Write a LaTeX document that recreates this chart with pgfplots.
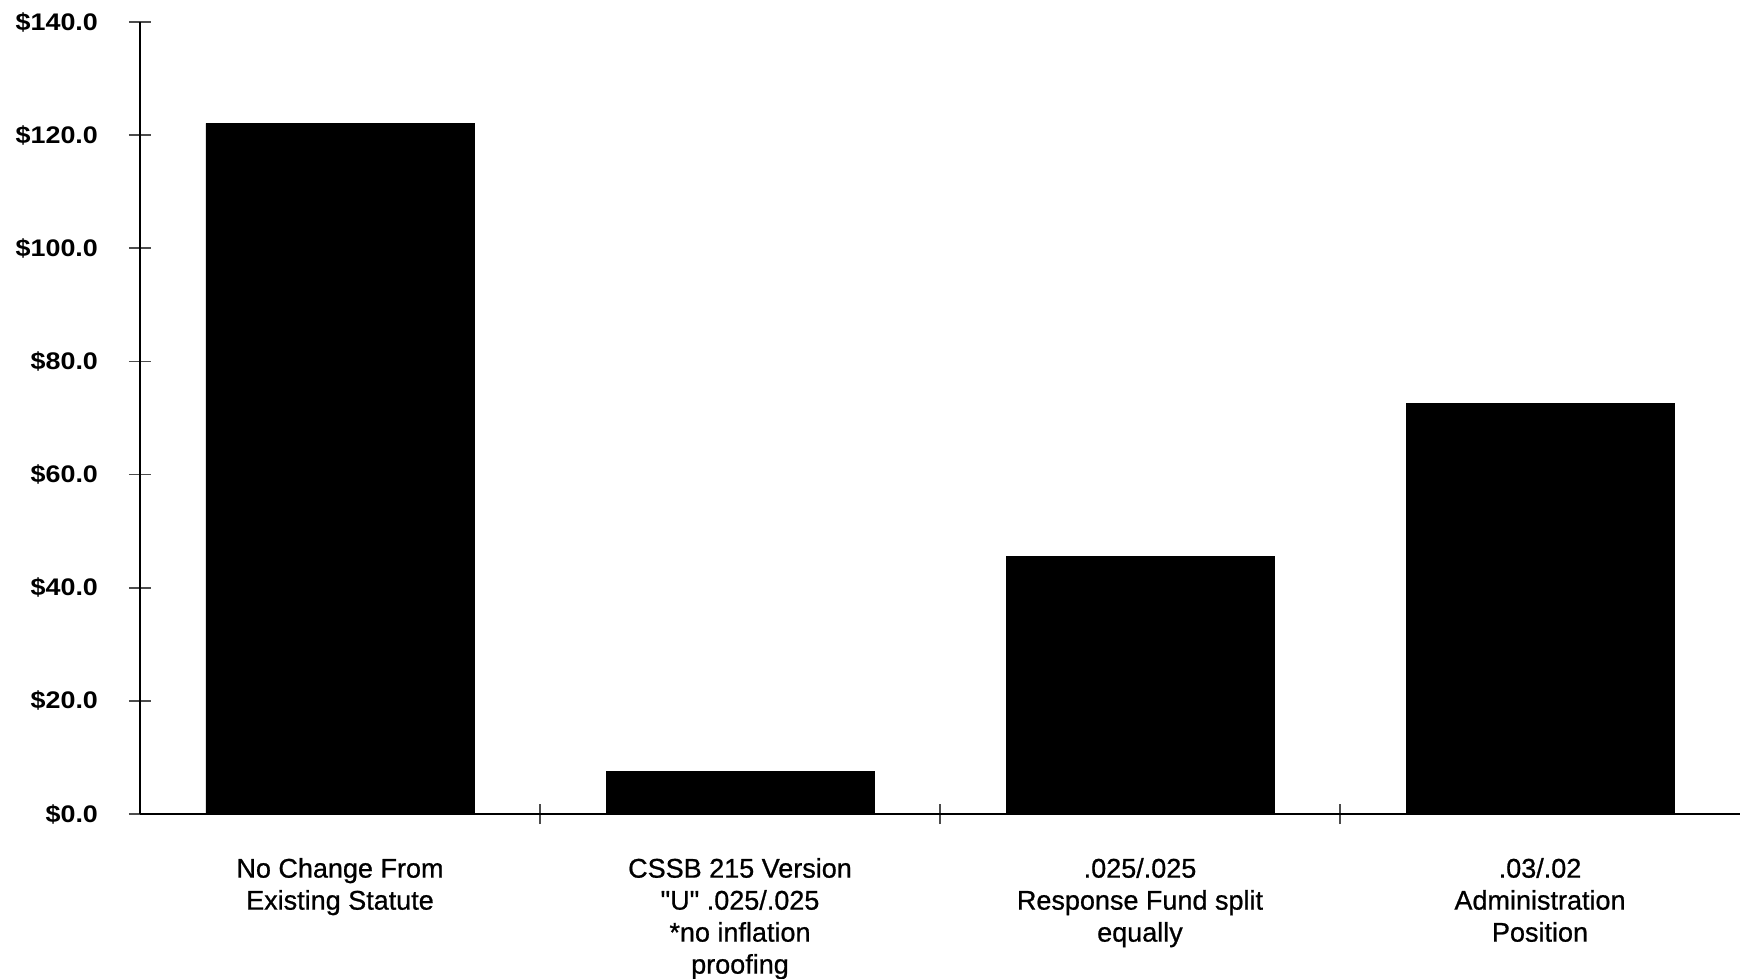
\documentclass[border=0pt]{standalone}
\usepackage{pgfplots}
\pgfplotsset{compat=1.18}
\usepackage{fontspec}
\setmainfont{Liberation Sans}
\newfontfamily\catfont[FakeBold=0.8]{Liberation Sans}
\newfontfamily\valfont[FakeStretch=1.12]{Liberation Sans}
\begin{document}
\begin{tikzpicture}
\useasboundingbox (-70pt,-82.5pt) rectangle (800pt,407pt);
\begin{axis}[
  at={(0pt,0pt)}, anchor=south west,
  scale only axis, width=800pt, height=396pt,
  xmin=-0.5, xmax=3.5, ymin=0, ymax=140,
  axis x line*=bottom, axis y line*=left,
  axis line style={black, line width=1pt},
  ybar, bar width=0.67,
  tick align=center,
  major tick length=11pt, minor tick length=10pt,
  every tick/.style={black!70, line width=0.8pt},
  ytick={0,20,...,140},
  yticklabel={\$\pgfmathprintnumber[fixed,fixed zerofill,precision=1]{\tick}},
  /pgf/number format/assume math mode=true,
  yticklabel style={font=\valfont\fontsize{12}{14}\selectfont\bfseries, xshift=-12pt},
  xtick={0,1,2,3}, minor xtick={0.5,1.5,2.5},
  major x tick style={draw=none},
  xticklabels={{No Change From\\Existing Statute},
               {CSSB 215 Version\\\textquotedbl U\textquotedbl{} .025/.025\\*no inflation\\proofing},
               {.025/.025\\Response Fund split\\equally},
               {.03/.02\\Administration\\Position}},
  xticklabel style={font=\catfont\fontsize{13.5}{16}\selectfont, align=center, anchor=north, yshift=-13pt},
]
\addplot[fill=black, draw=black] coordinates {(0,122.1) (1,7.6) (2,45.6) (3,72.5)};
\end{axis}
\end{tikzpicture}
\end{document}
